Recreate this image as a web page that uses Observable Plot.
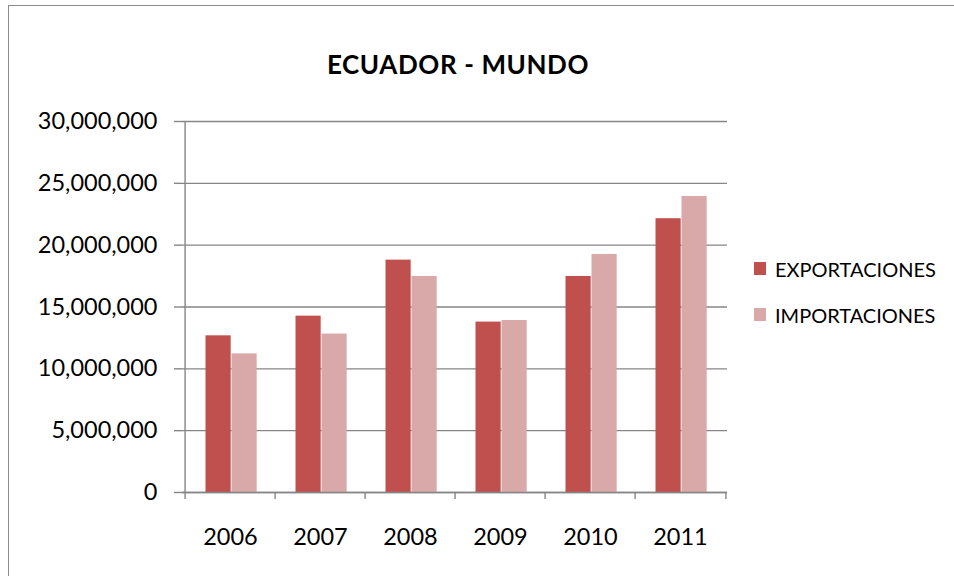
<!DOCTYPE html>
<html>
<head>
<meta charset="utf-8">
<script src="https://cdn.jsdelivr.net/npm/d3@7"></script>
<script src="https://cdn.jsdelivr.net/npm/@observablehq/plot@0.6"></script>
<style>
  html, body { margin: 0; padding: 0; background: #fff; overflow: hidden; }
  #wrap { position: relative; width: 954px; height: 576px; font-family: Lato, "Open Sans", sans-serif; color: #000; }
  #border { position: absolute; left: 8px; top: 5px; width: 1000px; height: 700px; border-left: 1px solid #8c8c8c; border-top: 1px solid #8c8c8c; box-sizing: border-box; pointer-events: none; }
  #title { position: absolute; left: 0; top: 51px; width: 916px; text-align: center; font-weight: 700; font-size: 26px; line-height: 26px; letter-spacing: 0.6px; }
  #chart { position: absolute; left: 0; top: 100px; }
  .leg { position: absolute; left: 754px; font-size: 20px; line-height: 20px; white-space: nowrap; }
  .leg .sw { position: absolute; left: 0; width: 12px; height: 13px; }
  .leg .lb { position: absolute; left: 21px; top: 0; }
</style>
</head>
<body>
<div id="wrap">
  <div id="border"></div>
  <div id="title"></div>
  <div id="chart"></div>
  <div id="legend"></div>
</div>
<script>
const title = "ECUADOR - MUNDO";
const years = ["2006", "2007", "2008", "2009", "2010", "2011"];
const exportaciones = [12670000, 14260000, 18790000, 13780000, 17470000, 22140000];
const importaciones = [11210000, 12810000, 17470000, 13910000, 19250000, 23940000];
const seriesNames = ["EXPORTACIONES", "IMPORTACIONES"];
const seriesColors = ["#C0504D", "#D9A8A9"];
const yTicks = [0, 5000000, 10000000, 15000000, 20000000, 25000000, 30000000];

const rows = years.map((year, i) => ({year, exp: exportaciones[i], imp: importaciones[i]}));

const W = 954, H = 476, mL = 182, mR = 227, mT = 21, mB = 84;
const step = (W - mL - mR) / years.length;
const barW = 26, gapL = 20.5;
const axisColor = "#868686";

document.getElementById("title").textContent = title;

const plot = Plot.plot({
  width: W, height: H,
  marginLeft: mL, marginRight: mR, marginTop: mT, marginBottom: mB,
  style: {fontFamily: "Lato, 'Open Sans', sans-serif", fontSize: "23.5px", color: "#000", background: "transparent", overflow: "visible"},
  x: {type: "band", domain: years, padding: 0, axis: null},
  y: {domain: [0, 30000000], axis: null},
  marks: [
    Plot.ruleY(yTicks, {stroke: axisColor, strokeWidth: 1.4}),
    Plot.axisY(yTicks, {tickSize: 8, tickPadding: 17, tickFormat: d3.format(","), stroke: axisColor, strokeWidth: 1.4, fill: "#000", fontSize: 23.5, label: null}),
    Plot.ruleX([years[0]], {dx: -step / 2, stroke: axisColor, strokeWidth: 1.4}),
    Plot.barY(rows, {x: "year", y: "exp", fill: seriesColors[0], insetLeft: gapL, insetRight: step - gapL - barW}),
    Plot.barY(rows, {x: "year", y: "imp", fill: seriesColors[1], insetLeft: gapL + barW, insetRight: step - gapL - 2 * barW}),
    Plot.ruleY([0], {stroke: axisColor, strokeWidth: 1.4}),
    Plot.axisX(years, {tickSize: 7, tickFormat: () => "", dx: -step / 2, stroke: axisColor, strokeWidth: 1.4, label: null}),
    Plot.axisX([years[years.length - 1]], {tickSize: 7, tickFormat: () => "", dx: step / 2, stroke: axisColor, strokeWidth: 1.4, label: null}),
    Plot.axisX(years, {tickSize: 0, tickPadding: 36, fill: "#000", fontSize: 23.5, label: null})
  ]
});
document.getElementById("chart").appendChild(plot);

const legend = document.getElementById("legend");
const legTops = [258.5, 304.5];
seriesNames.forEach((name, i) => {
  const item = document.createElement("div");
  item.className = "leg";
  item.style.top = legTops[i] + "px";
  const sw = document.createElement("div");
  sw.className = "sw";
  sw.style.background = seriesColors[i];
  sw.style.top = "3.5px";
  const lb = document.createElement("div");
  lb.className = "lb";
  lb.textContent = name;
  item.appendChild(sw);
  item.appendChild(lb);
  legend.appendChild(item);
});
</script>
</body>
</html>
